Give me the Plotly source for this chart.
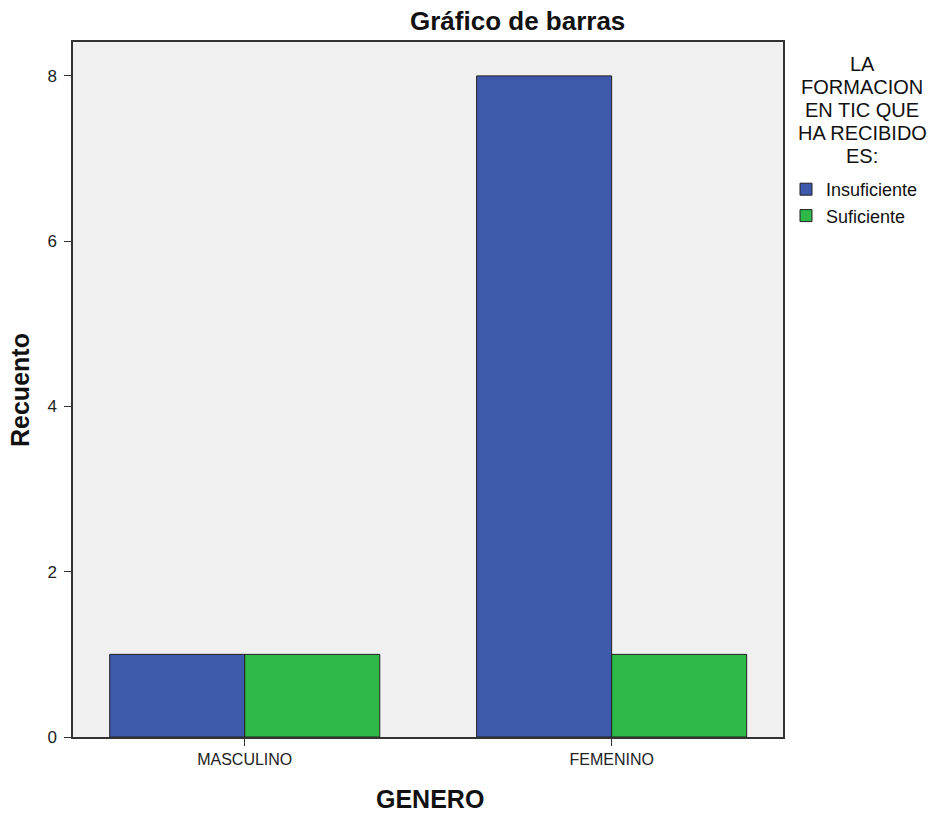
import plotly.graph_objects as go

categories = ["MASCULINO", "FEMENINO"]
insuficiente = [1, 8]
suficiente = [1, 1]
series_names = ["Insuficiente", "Suficiente"]
y_ticks = [0, 2, 4, 6, 8]
legend_title_lines = ["LA", "FORMACION", "EN TIC QUE", "HA RECIBIDO", "ES:"]

font = "Liberation Sans, Arial, sans-serif"
W, H = 933, 815
L, R, T, B = 73, 150, 42, 78
PW, PH = W - L - R, H - T - B


def px_x(x):
    return (x - L) / PW


def px_y(y):
    return (H - B - y) / PH


fig = go.Figure()
fig.add_trace(go.Bar(x=categories, y=insuficiente, name=series_names[0], legendgroup="a",
                     marker=dict(color="#3E58AC", line=dict(color="#222222", width=1))))
fig.add_trace(go.Bar(x=categories, y=suficiente, name=series_names[1], legendgroup="b",
                     marker=dict(color="#2EB848", line=dict(color="#222222", width=1))))

annotations = [
    dict(text="<b>Gráfico de barras</b>", x=px_x(517), y=px_y(21), xref="paper", yref="paper",
         xanchor="center", yanchor="middle", showarrow=False,
         font=dict(size=26, family=font, color="#111111")),
    dict(text="<b>GENERO</b>", x=px_x(430), y=px_y(799), xref="paper", yref="paper",
         xanchor="center", yanchor="middle", showarrow=False,
         font=dict(size=25, family=font, color="#111111")),
    dict(text="<b>Recuento</b>", x=px_x(20), y=px_y(390), xref="paper", yref="paper",
         xanchor="center", yanchor="middle", showarrow=False, textangle=-90,
         font=dict(size=25, family=font, color="#111111")),
]
line_y = [64, 87, 110, 133, 156]
for txt, ly in zip(legend_title_lines, line_y):
    annotations.append(dict(text=txt, x=px_x(862), y=px_y(ly), xref="paper", yref="paper",
                            xanchor="center", yanchor="middle", showarrow=False,
                            font=dict(size=20, family=font, color="#111111")))

fig.update_layout(
    width=W, height=H,
    margin=dict(l=L, r=R, t=T, b=B, autoexpand=False),
    barmode="group", bargap=0.264, bargroupgap=0,
    plot_bgcolor="#F0F0F0", paper_bgcolor="white",
    font=dict(family=font, size=16, color="#222222"),
    showlegend=True,
    legend=dict(x=px_x(786), y=px_y(171), xanchor="left", yanchor="top",
                font=dict(size=18, family=font, color="#111111"),
                traceorder="grouped", tracegroupgap=0, itemwidth=30,
                bgcolor="rgba(0,0,0,0)"),
    xaxis=dict(type="category", range=[-0.468, 1.467], showline=True, mirror=True,
               linecolor="#333333", linewidth=1.5, ticks="outside", ticklen=7,
               tickcolor="#333333", tickfont=dict(size=16, family=font), automargin=False),
    yaxis=dict(range=[0, 8.41], tickvals=y_ticks, showline=True, mirror=True,
               linecolor="#333333", linewidth=1.5, ticks="outside", ticklen=7,
               tickcolor="#333333", showgrid=False, zeroline=False, ticklabelstandoff=4,
               tickfont=dict(size=17, family=font), automargin=False),
    annotations=annotations,
)
fig.write_html("out.html", config={"displayModeBar": False},
               post_script="document.body.style.margin='0';")
